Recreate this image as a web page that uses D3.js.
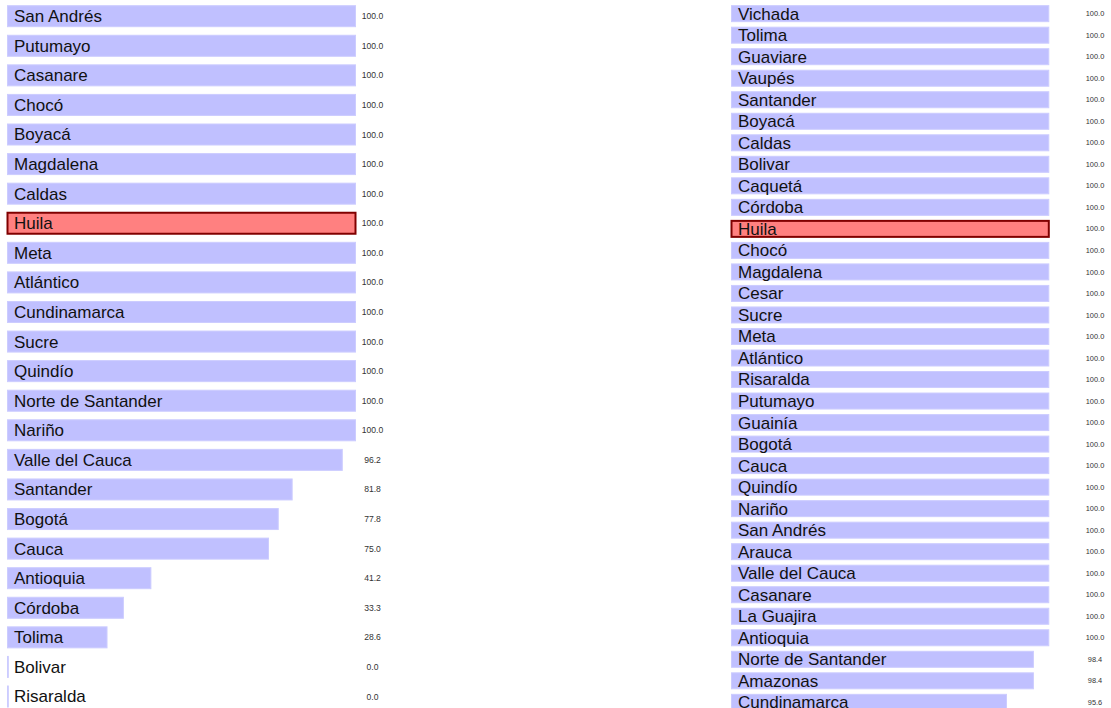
<!DOCTYPE html>
<html>
<head>
<meta charset="utf-8">
<script src="https://cdn.jsdelivr.net/npm/d3@7"></script>
<style>
  html, body { margin: 0; padding: 0; background: #fff; }
  svg { display: block; }
  text { font-family: "Liberation Sans", Arial, sans-serif; }
</style>
</head>
<body>
<svg id="chart" width="1111" height="708"></svg>
<script>
// Left panel data
const leftCategories = ["San Andrés","Putumayo","Casanare","Chocó","Boyacá","Magdalena","Caldas","Huila","Meta","Atlántico","Cundinamarca","Sucre","Quindío","Norte de Santander","Nariño","Valle del Cauca","Santander","Bogotá","Cauca","Antioquia","Córdoba","Tolima","Bolivar","Risaralda"];
const leftValues = [100,100,100,100,100,100,100,100,100,100,100,100,100,100,100,96.2,81.8,77.8,75.0,41.2,33.3,28.6,0.0,0.0];

// Right panel data
const rightCategories = ["Vichada","Tolima","Guaviare","Vaupés","Santander","Boyacá","Caldas","Bolivar","Caquetá","Córdoba","Huila","Chocó","Magdalena","Cesar","Sucre","Meta","Atlántico","Risaralda","Putumayo","Guainía","Bogotá","Cauca","Quindío","Nariño","San Andrés","Arauca","Valle del Cauca","Casanare","La Guajira","Antioquia","Norte de Santander","Amazonas","Cundinamarca"];
const rightValues = [100,100,100,100,100,100,100,100,100,100,100,100,100,100,100,100,100,100,100,100,100,100,100,100,100,100,100,100,100,100,98.4,98.4,95.6];

const highlight = "Huila";

const svg = d3.select("#chart");

function panel(cfg) {
  const data = cfg.categories.map((c, i) => ({ name: c, value: cfg.values[i] }));
  const y = d3.scaleBand().domain(cfg.categories).range(cfg.yRange)
    .paddingInner(cfg.pad).paddingOuter(cfg.pad / 2);
  const x = d3.scaleLinear().domain(cfg.xDomain).range(cfg.xRange);
  const g = svg.append("g");
  const row = g.selectAll("g.row").data(data).join("g").attr("class", "row");
  row.append("rect")
    .attr("x", x(cfg.xDomain[0]))
    .attr("y", d => y(d.name))
    .attr("width", d => Math.max(0.8, x(d.value) - x(cfg.xDomain[0])))
    .attr("height", y.bandwidth())
    .attr("fill", d => d.name === highlight ? "#ff8080" : "#c0c0ff")
    .attr("stroke", d => d.name === highlight ? "#800000" : "#ccccff")
    .attr("stroke-width", d => d.name === highlight ? 2 : 1);
  row.append("text")
    .attr("x", x(cfg.xDomain[0]) + 6.5)
    .attr("y", d => y(d.name) + y.bandwidth() / 2)
    .attr("dy", "0.35em")
    .attr("font-size", 17)
    .attr("fill", "#111")
    .text(d => d.name);
  row.append("text")
    .attr("x", cfg.valueX)
    .attr("y", d => y(d.name) + y.bandwidth() / 2)
    .attr("dy", "0.35em")
    .attr("text-anchor", "middle")
    .attr("font-size", cfg.valueFont)
    .attr("fill", "#333")
    .text(d => d.value.toFixed(1));
}

panel({
  categories: leftCategories, values: leftValues,
  yRange: [1.4, 711.3], pad: 0.29,
  xDomain: [0, 100], xRange: [7.5, 355.5],
  valueX: 372.5, valueFont: 8.6
});

panel({
  categories: rightCategories, values: rightValues,
  yRange: [2.9, 713.1], pad: 0.2565,
  xDomain: [67, 100], xRange: [731.5, 1048.8],
  valueX: 1095, valueFont: 7.4
});
</script>
</body>
</html>
